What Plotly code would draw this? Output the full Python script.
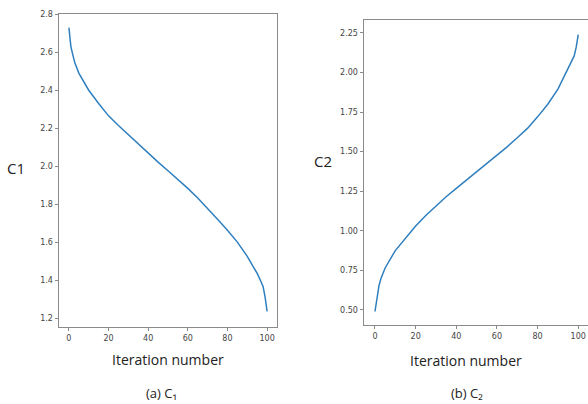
import plotly.graph_objects as go

iters = [0, 1, 2, 3, 5, 10, 15, 20, 25, 30, 35, 40, 45, 50, 55, 60, 65, 70, 75, 80, 85, 90, 95, 97, 98, 99, 100]
c1 = [2.73, 2.63, 2.585, 2.545, 2.49, 2.40, 2.33, 2.265, 2.214, 2.165, 2.115, 2.068, 2.021, 1.976,
      1.93, 1.883, 1.832, 1.778, 1.72, 1.662, 1.60, 1.525, 1.435, 1.39, 1.365, 1.31, 1.235]
c2 = [0.49, 0.59, 0.655, 0.70, 0.765, 0.875, 0.955, 1.03, 1.097, 1.158, 1.215, 1.268, 1.32, 1.37,
      1.42, 1.473, 1.53, 1.588, 1.647, 1.72, 1.80, 1.895, 2.02, 2.07, 2.105, 2.16, 2.24]

x_ticks = [0, 20, 40, 60, 80, 100]
c1_ticks = [1.2, 1.4, 1.6, 1.8, 2.0, 2.2, 2.4, 2.6, 2.8]
c1_ticklabels = ["1.2", "1.4", "1.6", "1.8", "2.0", "2.2", "2.4", "2.6", "2.8"]
c2_ticks = [0.5, 0.75, 1.0, 1.25, 1.5, 1.75, 2.0, 2.25]
c2_ticklabels = ["0.50", "0.75", "1.00", "1.25", "1.50", "1.75", "2.00", "2.25"]

W, H = 588, 404
line_color = "#2f7fbf"
frame_color = "#8a8a8a"
tick_font = dict(family="DejaVu Sans", size=8, color="#444444")

fig = go.Figure()
fig.add_trace(go.Scatter(x=iters, y=c1, mode="lines", line=dict(color=line_color, width=1.5),
                         xaxis="x", yaxis="y", showlegend=False))
fig.add_trace(go.Scatter(x=iters, y=c2, mode="lines", line=dict(color=line_color, width=1.5),
                         xaxis="x2", yaxis="y2", showlegend=False))

def ax(**kw):
    base = dict(showgrid=False, zeroline=False, showline=True, linecolor=frame_color, linewidth=1,
                ticks="outside", ticklen=3.5, tickwidth=1, tickcolor=frame_color,
                tickfont=tick_font)
    base.update(kw)
    return base

fig.update_layout(
    width=W, height=H,
    margin=dict(l=0, r=0, t=0, b=0),
    paper_bgcolor="white", plot_bgcolor="white",
    xaxis=ax(domain=[59 / W, 277 / W], range=[-5, 105], tickvals=x_ticks, anchor="y", mirror=True),
    yaxis=ax(domain=[1 - 326 / H, 1 - 10 / H], range=[1.154, 2.802], tickvals=c1_ticks,
             ticktext=c1_ticklabels, anchor="x", mirror=True),
    xaxis2=ax(domain=[364 / W, 1.0], range=[-5.4, 104.8], tickvals=x_ticks, anchor="y2", mirror=True),
    yaxis2=ax(domain=[1 - 324 / H, 1 - 16 / H], range=[0.406, 2.333], tickvals=c2_ticks,
              ticktext=c2_ticklabels, anchor="x2", mirror=False),
)

def ann(text, x, y, size=14):
    fig.add_annotation(text=text, x=x / W, y=1 - y / H, xref="paper", yref="paper",
                       showarrow=False, xanchor="center", yanchor="middle",
                       font=dict(family="Open Sans", size=size, color="#222222"))

ann("C1", 16, 166, 15)
ann("C2", 323, 159, 15)
ann("Iteration number", 168, 359, 14)
ann("Iteration number", 466, 360, 14)
ann("(a) C₁", 161, 393, 13)
ann("(b) C₂", 467, 393, 13)

fig.write_html(
    "out.html",
    config={"displayModeBar": False},
    post_script="document.body.style.margin='0';document.body.style.overflow='hidden';",
)
